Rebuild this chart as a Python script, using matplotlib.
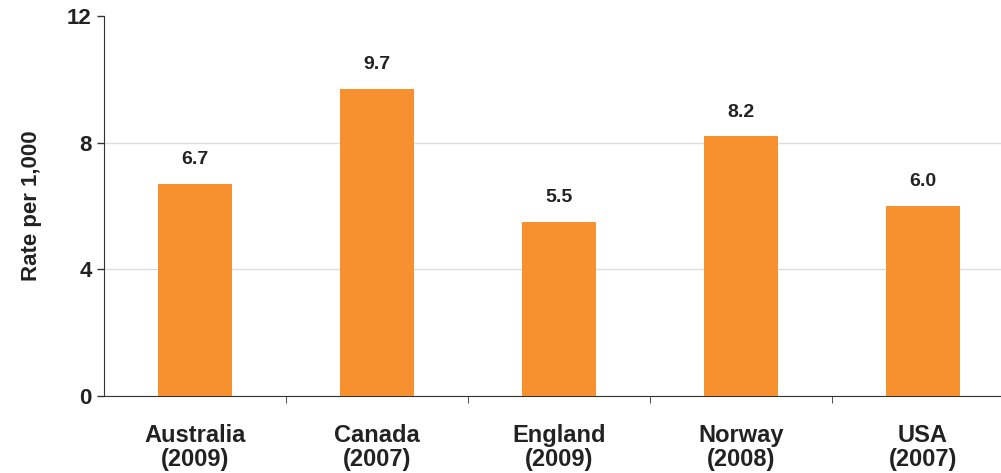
import numpy as np
import matplotlib
matplotlib.use("Agg")
import matplotlib.pyplot as plt

plt.rcParams['font.family'] = ['Liberation Sans', 'DejaVu Sans']

countries = ["Australia", "Canada", "England", "Norway", "USA"]
years = ["2009", "2007", "2009", "2008", "2007"]
rates = [6.7, 9.7, 5.5, 8.2, 6.0]

fig = plt.figure(figsize=(10.01, 4.73), dpi=100)
ax = fig.add_axes([0.104, 0.163, 0.909, 0.803])

x = np.arange(len(countries))
ax.bar(x, rates, width=0.41, color="#F7902F", zorder=3)

for xi, r in zip(x, rates):
    ax.text(xi, r + 0.5, f"{r:.1f}", ha="center", va="bottom",
            fontsize=14, fontweight="bold", color="#222222")

ax.set_xlim(-0.5, 4.5)
ax.set_ylim(0, 12)
ax.set_yticks([0, 4, 8, 12])
ax.tick_params(axis="y", labelsize=16, length=5, width=1, colors="#333333",
               labelcolor="#222222", pad=4)
for lbl in ax.get_yticklabels():
    lbl.set_fontweight("bold")

ax.set_xticks(x)
ax.set_xticklabels([f"{c}\n({y})" for c, y in zip(countries, years)],
                   fontsize=17, fontweight="bold", color="#222222",
                   linespacing=1.05)
ax.tick_params(axis="x", length=0, pad=20)
ax.set_xticks(np.arange(0.5, 4.5, 1), minor=True)
ax.tick_params(axis="x", which="minor", length=5, color="#333333")

ax.grid(axis="y", color="#dddddd", linewidth=1, zorder=0)
ax.get_ygridlines()[-1].set_visible(False)
for side in ["top", "right"]:
    ax.spines[side].set_visible(False)
ax.spines["left"].set_color("#333333")
ax.spines["bottom"].set_color("#333333")

ax.set_ylabel("Rate per 1,000", fontsize=16, fontweight="bold", color="#222222",
              labelpad=18)

fig.savefig("out.png", dpi=100)
